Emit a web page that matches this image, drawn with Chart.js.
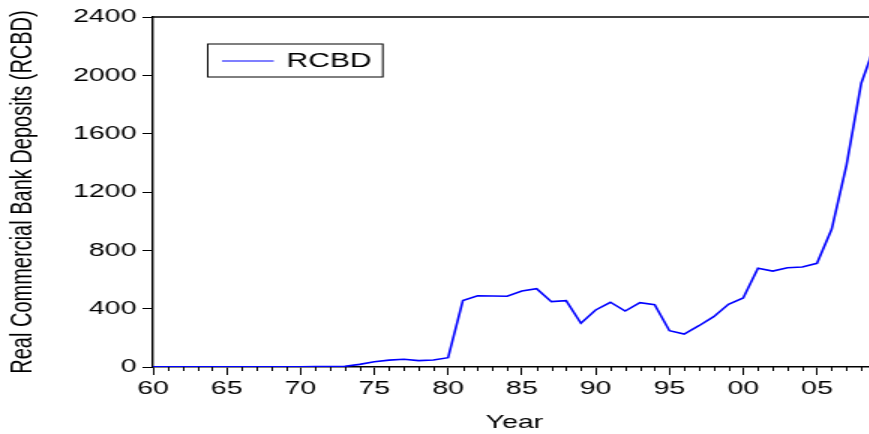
<!DOCTYPE html>
<html>
<head>
<meta charset="utf-8">
<script src="https://cdn.jsdelivr.net/npm/chart.js@4/dist/chart.umd.min.js"></script>
<style>
  html, body { margin: 0; padding: 0; background: #fff; overflow: hidden; }
  #wrap { width: 869px; height: 434px; overflow: hidden; position: relative; }
  #c { transform: scaleX(1.5); transform-origin: 0 0; display: block; }
</style>
</head>
<body>
<div id="wrap"><canvas id="c" width="590" height="434"></canvas></div>
<script>
// ---- Data ----
const years = [
  1960,1961,1962,1963,1964,1965,1966,1967,1968,1969,
  1970,1971,1972,1973,1974,1975,1976,1977,1978,1979,
  1980,1981,1982,1983,1984,1985,1986,1987,1988,1989,
  1990,1991,1992,1993,1994,1995,1996,1997,1998,1999,
  2000,2001,2002,2003,2004,2005,2006,2007,2008,2009
];
const rcbd = [
  1,1,1,1,1,1,2,2,2,2,
  2,3,3,5,18,36,47,53,44,48,
  64,455,489,487,485,521,537,448,455,300,
  391,444,384,441,427,249,226,283,345,430,
  473,677,658,681,686,711,946,1385,1946,2225
];
const seriesLabel = "RCBD";
const xTitle = "Year";
const yTitle = "Real Commercial Bank Deposits (RCBD)";
const yTicks = [0, 400, 800, 1200, 1600, 2000, 2400];
const xMin = 1960, xMax = 2009, xStep = 5;

const FONT = "'Liberation Sans', Arial, sans-serif";

const minorTicks = {
  id: 'minorTicks',
  afterDraw(chart) {
    const xs = chart.scales.x;
    const ctx = chart.ctx;
    const ca = chart.chartArea;
    ctx.save();
    ctx.strokeStyle = '#000';
    ctx.lineWidth = 1;
    for (const yr of years) {
      if ((yr - xMin) % xStep === 0) continue;
      const px = Math.round(xs.getPixelForValue(yr)) + 0.5;
      ctx.beginPath();
      ctx.moveTo(px, ca.bottom);
      ctx.lineTo(px, ca.bottom + 4);
      ctx.stroke();
    }
    // top frame line
    ctx.lineWidth = 1.6;
    ctx.beginPath();
    ctx.moveTo(ca.left, ca.top);
    ctx.lineTo(ca.right, ca.top);
    ctx.stroke();
    ctx.restore();
  }
};

const boxLegend = {
  id: 'boxLegend',
  afterDraw(chart) {
    const ctx = chart.ctx;
    const ca = chart.chartArea;
    const ds = chart.data.datasets[0];
    const bx = ca.left + 36.5, by = ca.top + 27, bw = 116.7, bh = 33;
    ctx.save();
    ctx.fillStyle = '#fff';
    ctx.fillRect(bx, by, bw, bh);
    ctx.strokeStyle = '#000';
    ctx.lineWidth = 1;
    ctx.strokeRect(bx, by, bw, bh);
    ctx.strokeStyle = ds.borderColor;
    ctx.lineWidth = 1.2;
    ctx.beginPath();
    ctx.moveTo(bx + 9.5, by + 17);
    ctx.lineTo(bx + 44, by + 17);
    ctx.stroke();
    ctx.fillStyle = '#000';
    ctx.font = "20px " + FONT;
    ctx.textBaseline = 'middle';
    ctx.textAlign = 'left';
    ctx.fillText(ds.label, bx + 52.5, by + 17.5);
    ctx.restore();
  }
};

new Chart(document.getElementById('c'), {
  type: 'line',
  data: {
    datasets: [{
      label: seriesLabel,
      data: years.map((y, i) => ({ x: y, y: rcbd[i] })),
      borderColor: '#0000FF',
      borderWidth: 1.6,
      pointRadius: 0,
      tension: 0,
      fill: false
    }]
  },
  options: {
    responsive: false,
    animation: false,
    devicePixelRatio: 1,
    layout: { padding: { top: 17, right: 6, left: 0, bottom: 0 } },
    plugins: { legend: { display: false }, tooltip: { enabled: false } },
    scales: {
      x: {
        type: 'linear',
        min: xMin, max: xMax,
        afterFit(s) { s.height = 67; },
        afterBuildTicks(s) {
          const t = [];
          for (let v = xMin; v <= xMax; v += xStep) t.push({ value: v });
          s.ticks = t;
        },
        ticks: {
          autoSkip: false,
          maxRotation: 0,
          padding: 2,
          color: '#000',
          font: { family: FONT, size: 19 },
          callback: (v) => String(v % 100).padStart(2, '0')
        },
        grid: { drawOnChartArea: false, drawTicks: true, tickLength: 8, color: '#000', lineWidth: 1 },
        border: { display: true, color: '#000', width: 1.6 },
        title: { display: true, text: xTitle, color: '#000', font: { family: FONT, size: 19 }, padding: { top: 0, bottom: 0 } }
      },
      y: {
        min: 0, max: 2400,
        afterFit(s) { s.width = 102; },
        afterBuildTicks(s) { s.ticks = yTicks.map(v => ({ value: v })); },
        ticks: {
          padding: 4,
          color: '#000',
          font: { family: FONT, size: 19 },
          callback: (v) => String(v)
        },
        grid: { drawOnChartArea: false, drawTicks: true, tickLength: 7, color: '#000', lineWidth: 1 },
        border: { display: true, color: '#000', width: 1.4 },
        title: { display: true, text: yTitle, color: '#000', font: { family: FONT, size: 20 }, padding: { top: 3, bottom: 0 } }
      }
    }
  },
  plugins: [minorTicks, boxLegend]
});
</script>
</body>
</html>
